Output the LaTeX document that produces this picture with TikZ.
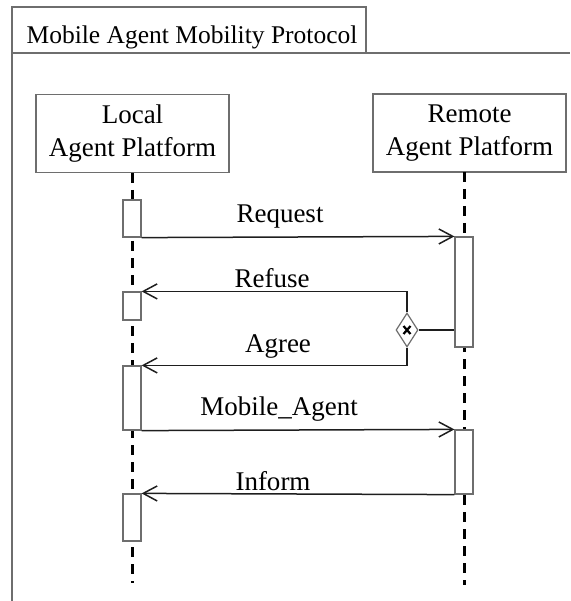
\documentclass[tikz,border=0pt]{standalone}
\usepackage{fontspec}
\setmainfont{Liberation Serif}
\usetikzlibrary{arrows.meta,shapes.geometric}
\definecolor{boxgray}{HTML}{6E6E6E}
\definecolor{linedark}{HTML}{1E1E1E}
\tikzset{
  lifebox/.style={draw=boxgray, line width=1.3pt, fill=white, minimum width=193pt, minimum height=78pt, inner sep=0pt, align=center, font=\fontsize{27}{33}\selectfont},
  actbox/.style={draw=boxgray, line width=1.2pt, fill=white, minimum width=18pt, inner sep=0pt},
  lifeline/.style={line width=3pt, black, dash pattern=on 10pt off 7pt},
  msg/.style={draw=linedark, line width=1.5pt, -{Straight Barb[length=14pt,width=15pt,line width=1.5pt]}},
  plainline/.style={draw=linedark, line width=1.5pt},
  msglabel/.style={font=\fontsize{27}{30}\selectfont, inner sep=0pt, anchor=base},
  framebox/.style={draw=boxgray, line width=1.3pt},
  gate/.style={draw=boxgray, line width=1.2pt, fill=white, diamond, minimum width=22pt, minimum height=34pt, inner sep=0pt}
}
\begin{document}
\begin{tikzpicture}[x=1pt,y=-1pt]
\useasboundingbox (0,0) rectangle (570,601);
% frame
\draw[framebox] (12,53) rectangle (366,7);
\draw[framebox] (12,601) -- (12,53) -- (570,53);
\node[font=\fontsize{25.5}{30}\selectfont, anchor=base, inner sep=0pt] (title) at (192,44) {Mobile Agent Mobility Protocol};
% lifeline heads
\node[lifebox] (Lbox) at (132.5,133.5) {Local\\Agent Platform};
\node[lifebox] (Rbox) at (469.5,133) {Remote\\Agent Platform};
% lifeline ends
\coordinate (Lend) at (132,583);
\coordinate (Rend) at (464,585);
\draw[lifeline] (132,173) -- (Lend);
\draw[lifeline] (464,172) -- (Rend);
% activations
\node[actbox, minimum height=37pt] (L1) at (132,218.5) {};
\node[actbox, minimum height=28pt] (L2) at (132,306) {};
\node[actbox, minimum height=64pt] (L3) at (132,398) {};
\node[actbox, minimum height=47pt] (L4) at (132,517.5) {};
\node[actbox, minimum height=110pt] (R1) at (464,292) {};
\node[actbox, minimum height=64pt] (R2) at (464,462) {};
% gate
\node[gate] (D) at (407,330) {};
\draw[line width=2.2pt, black] (403.5,326) -- (410.5,334) (410.5,326) -- (403.5,334);
% messages
\draw[msg] (L1.south east) -- (R1.north west);
\node[msglabel] (lreq) at (280,223) {Request};
\draw[plainline] (D.east) -- (R1.west |- D.east);
\draw[msg] (D.north) |- (L2.north east);
\node[msglabel] (lref) at (272,287) {Refuse};
\draw[msg] (D.south) |- (L3.north east);
\node[msglabel] (lagr) at (278,352) {Agree};
\draw[msg] (L3.south east) -- (R2.north west);
\node[msglabel] (lmob) at (279,415) {Mobile\_Agent};
\draw[msg] (R2.south west) -- (L4.north east);
\node[msglabel] (linf) at (273,490) {Inform};
\end{tikzpicture}
\end{document}
